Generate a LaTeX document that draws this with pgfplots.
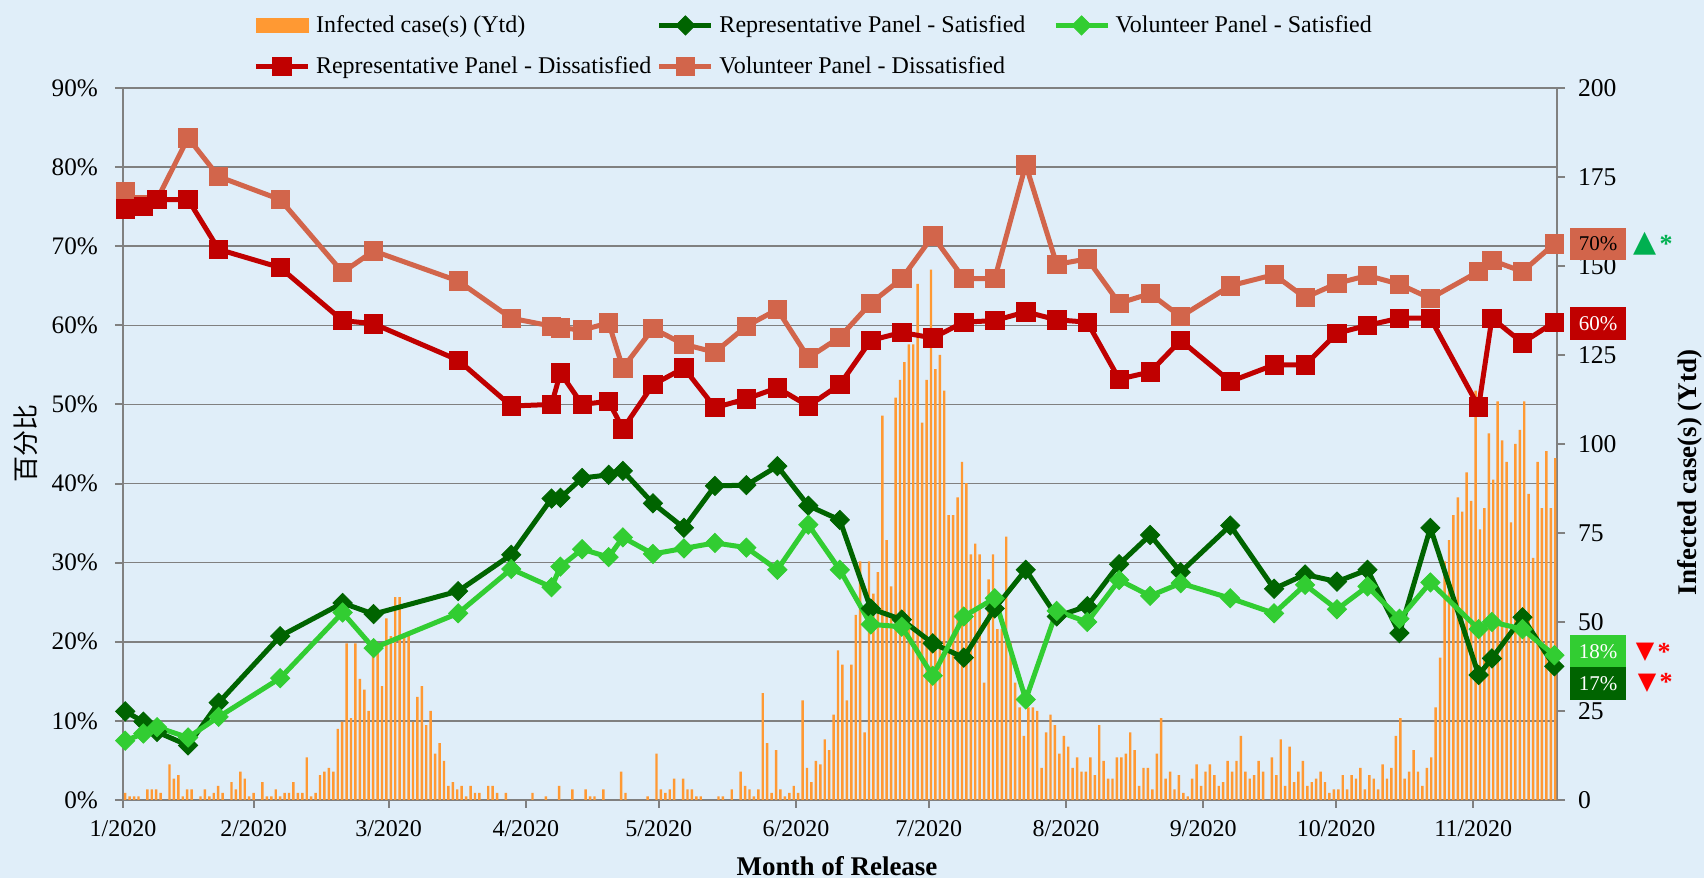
\documentclass[border=0pt]{standalone}
\usepackage{pgfplots}
\usepackage{pgfplotstable}
\pgfplotsset{compat=1.18}
\usepackage{fontspec}
\setmainfont{Liberation Serif}
\newfontfamily\cjk{Noto Sans CJK SC}
\newfontfamily\djv{DejaVu Sans}
\definecolor{bgblue}{HTML}{E0EEF9}
\definecolor{gridgray}{HTML}{808080}
\definecolor{barorange}{HTML}{FF9933}
\definecolor{repred}{HTML}{C00000}
\definecolor{volorange}{HTML}{D2654B}
\definecolor{repgreen}{HTML}{006400}
\definecolor{volgreen}{HTML}{32CD32}
\definecolor{upgreen}{HTML}{00B050}

\pgfplotstableread{
x y
0 2
1 1
2 1
3 1
5 3
6 3
7 3
8 2
10 10
11 6
12 7
13 1
14 3
15 3
17 1
18 3
19 1
20 2
21 4
22 2
24 5
25 3
26 8
27 6
28 1
29 2
31 5
32 1
33 1
34 3
35 1
36 2
37 2
38 5
39 2
40 2
41 12
42 1
43 2
44 7
45 8
46 9
47 8
48 20
49 22
50 44
51 23
52 44
53 34
54 31
55 25
56 44
57 44
58 32
59 51
60 46
61 57
62 57
63 46
64 46
65 22
66 29
67 32
68 21
69 25
70 13
71 16
72 11
73 4
74 5
75 3
76 4
77 1
78 4
79 2
80 2
82 4
83 4
84 2
86 2
92 2
95 1
98 4
101 3
104 3
105 1
106 1
108 3
112 8
113 2
118 1
120 13
121 3
122 2
123 3
124 6
126 6
127 3
128 3
129 1
130 1
134 1
135 1
137 3
139 8
140 4
141 3
142 1
143 3
144 30
145 16
146 2
147 14
148 3
149 1
150 2
151 4
152 2
153 28
154 9
155 5
156 11
157 10
158 17
159 14
160 24
161 42
162 38
163 28
164 38
165 52
166 67
167 19
168 67
169 58
170 64
171 108
172 73
173 60
174 113
175 118
176 123
177 128
178 128
179 145
180 106
181 118
182 149
183 121
184 125
185 115
186 80
187 80
188 85
189 95
190 89
191 69
192 72
193 69
194 33
195 62
196 69
197 48
198 48
199 74
200 44
201 33
202 26
203 18
204 26
205 26
206 25
207 9
208 19
209 24
210 21
211 13
212 18
213 15
214 9
215 12
216 8
217 8
218 12
219 7
220 21
221 11
222 6
223 6
224 12
225 12
226 13
227 19
228 14
229 4
230 9
231 9
232 3
233 13
234 23
235 6
236 8
237 3
238 7
239 2
240 1
241 6
242 10
243 4
244 8
245 10
246 7
247 4
248 5
249 11
250 8
251 11
252 18
253 8
254 6
255 7
256 11
257 8
259 12
260 7
261 17
262 4
263 15
264 5
265 8
266 11
267 4
268 5
269 6
270 8
271 5
272 2
273 3
274 3
275 7
276 3
277 7
278 6
279 9
280 3
281 7
282 6
283 3
284 10
285 6
286 9
287 18
288 23
289 6
290 8
291 14
292 8
293 4
294 9
295 12
296 26
297 40
298 67
299 73
300 80
301 85
302 81
303 92
304 84
305 115
306 76
307 82
308 103
309 90
310 112
311 101
312 95
313 78
314 100
315 104
316 112
317 86
318 68
319 95
320 82
321 98
322 82
323 96
}\bardata

\pgfplotstableread{
x repdis voldis repsat volsat
0 74.7 76.9 11.2 7.5
4.1 75.0 75.2 9.9 8.4
7.2 75.9 75.9 8.6 9.2
14.2 75.9 83.7 6.9 7.9
21.1 69.6 78.8 12.3 10.5
35 67.3 75.9 20.7 15.4
49.1 60.6 66.7 24.9 23.7
56.1 60.2 69.4 23.5 19.2
75.2 55.6 65.6 26.4 23.6
87.2 49.8 60.9 31.0 29.2
96.3 50.0 59.9 38.1 26.9
98.3 54.0 59.7 38.2 29.5
103.2 50.0 59.4 40.7 31.7
109.2 50.4 60.3 41.1 30.7
112.4 46.9 54.6 41.6 33.2
119.2 52.5 59.6 37.5 31.1
126.2 54.6 57.6 34.4 31.8
133.2 49.6 56.6 39.7 32.5
140.3 50.7 59.9 39.8 31.9
147.3 52.1 62.0 42.2 29.1
154.3 49.8 55.9 37.2 34.8
161.4 52.5 58.5 35.4 29.1
168.4 58.1 62.8 24.2 22.2
175.4 59.1 65.9 22.8 21.9
182.4 58.4 71.3 19.8 15.7
189.4 60.4 65.9 18.0 23.2
196.4 60.6 65.9 24.2 25.5
203.4 61.7 80.3 29.1 12.7
210.4 60.7 67.7 23.2 23.9
217.3 60.4 68.4 24.5 22.5
224.5 53.2 62.8 29.8 27.8
231.5 54.1 64.0 33.5 25.8
238.4 58.1 61.1 28.8 27.4
249.6 52.9 65.0 34.7 25.5
259.5 55.0 66.4 26.7 23.6
266.5 55.0 63.5 28.5 27.2
273.7 59.0 65.3 27.6 24.1
280.6 60.0 66.3 29.1 27.0
287.8 60.9 65.2 21.1 22.9
294.8 60.9 63.4 34.4 27.5
305.7 49.7 66.8 15.8 21.6
308.7 60.9 68.2 17.9 22.5
315.6 57.8 66.8 23.1 21.6
322.8 60.4 70.3 16.9 18.3
}\linedata

\pgfplotsset{
  common/.style={at={(0pt,0pt)}, anchor=south west, scale only axis,
    width=717pt, height=356pt, xmin=-0.5, xmax=323.4},
  mylegline/.style={legend image code/.code={%
    \draw[mark repeat=2,mark phase=2,##1] plot coordinates {(0pt,0pt) (13pt,0pt) (26pt,0pt)};}},
}

\begin{document}
\begin{tikzpicture}
\fill[bgblue] (-61.5pt,-39pt) rectangle (790.5pt,400pt);
\useasboundingbox (-61.5pt,-39pt) rectangle (790.5pt,400pt);

% percent axis: grid, left ticks, x ticks
\begin{axis}[common, ymin=0, ymax=90,
  axis x line*=bottom, axis y line*=left,
  axis line style={gridgray, line width=1.3pt},
  ymajorgrids, grid style={gridgray, line width=0.8pt},
  ytick={0,10,...,90},
  yticklabels={0\%,10\%,20\%,30\%,40\%,50\%,60\%,70\%,80\%,90\%},
  xtick={-0.5,29,59.5,90.5,120.5,151.5,181.5,212.5,243.5,273.5,304.5},
  xticklabels={1/2020,2/2020,3/2020,4/2020,5/2020,6/2020,7/2020,8/2020,9/2020,10/2020,11/2020},
  tick align=outside, major tick length=4pt,
  tick style={gridgray, line width=1pt},
  yticklabel style={font=\fontsize{12.6}{12.6}\selectfont, xshift=-5pt},
  xticklabel style={font=\fontsize{12}{12}\selectfont, anchor=base, yshift=-14.5pt},
]
\end{axis}

% bar axis (right)
\begin{axis}[common, ymin=0, ymax=200,
  axis y line*=right, axis x line=none,
  axis line style={gridgray, line width=1.3pt},
  ytick={0,25,...,200},
  yticklabels={0,25,50,75,100,125,150,175,200},
  tick align=outside, major tick length=4pt,
  tick style={gridgray, line width=1pt},
  yticklabel style={font=\fontsize{12.8}{12.8}\selectfont, xshift=3pt},
]
\addplot[ybar, bar width=0.55, fill=barorange, draw=none] table[x=x,y=y] {\bardata};
\end{axis}

% line axis
\begin{axis}[common, ymin=0, ymax=90, hide axis, clip=false,
  legend columns=3,
  legend cell align=left,
  legend style={draw=none, fill=none, inner sep=0pt,
    at={(axis description cs:0.0907,1.108)}, anchor=north west,
    font=\fontsize{12}{14}\selectfont, row sep=6.5pt,
    nodes={inner xsep=2.8pt}},
]
\addlegendimage{legend image code/.code={\fill[barorange] (0pt,-3.5pt) rectangle (26pt,3.5pt);}}
\addlegendentry{\makebox[167pt][l]{Infected case(s) (Ytd)}}
\addlegendimage{mylegline, repgreen, line width=2.5pt, mark=square*, mark size=3.4pt, mark options={rotate=45, line width=0.4pt}}
\addlegendentry{\makebox[164pt][l]{Representative Panel - Satisfied}}
\addlegendimage{mylegline, volgreen, line width=2.5pt, mark=square*, mark size=3.4pt, mark options={rotate=45, line width=0.4pt}}
\addlegendentry{Volunteer Panel - Satisfied}
\addlegendimage{mylegline, repred, line width=2.5pt, mark=square*, mark size=4.6pt, mark options={line width=0.4pt}}
\addlegendentry{Representative Panel - Dissatisfied}
\addlegendimage{mylegline, volorange, line width=2.5pt, mark=square*, mark size=4.6pt, mark options={line width=0.4pt}}
\addlegendentry{Volunteer Panel - Dissatisfied}

\addplot[forget plot, repgreen, line width=2.5pt, mark=square*, mark size=3.4pt, mark options={rotate=45, line width=0.4pt}] table[x=x,y=repsat] {\linedata};
\addplot[forget plot, volgreen, line width=2.5pt, mark=square*, mark size=3.4pt, mark options={rotate=45, line width=0.4pt}] table[x=x,y=volsat] {\linedata};
\addplot[forget plot, volorange, line width=2.5pt, mark=square*, mark size=4.6pt, mark options={line width=0.4pt}] table[x=x,y=voldis] {\linedata};
\addplot[forget plot, repred, line width=2.5pt, mark=square*, mark size=4.6pt, mark options={line width=0.4pt}] table[x=x,y=repdis] {\linedata};
\end{axis}

% axis titles
\node[font=\bfseries\fontsize{13.5}{13.5}\selectfont] at (357pt,-33pt) {Month of Release};
\node[rotate=90, font=\bfseries\fontsize{13.5}{13.5}\selectfont] at (783.5pt,163.75pt) {Infected case(s) (Ytd)};
\node[rotate=90, font=\cjk\fontsize{13}{13}\selectfont] at (-48.6pt,178pt) {百分比};

% end-point call-outs
\tikzset{callout/.style={minimum width=28pt, minimum height=16.3pt, inner sep=0pt, font=\fontsize{10.5}{10.5}\selectfont}}
\node[callout, fill=volorange, text=black] at (737.5pt,278pt) {70\%};
\node[callout, fill=repred, text=white] at (737.5pt,238.25pt) {60\%};
\node[callout, fill=volgreen, text=white] at (737.5pt,74.15pt) {18\%};
\node[callout, fill=repgreen, text=white] at (737.5pt,58.2pt) {17\%};
\node[text=upgreen, inner sep=0pt, font=\djv\fontsize{15}{15}\selectfont] at (761pt,278pt) {▲};
\node[text=upgreen, inner sep=0pt, font=\bfseries\fontsize{13}{13}\selectfont] at (771.5pt,278pt) {*};
\node[text=red, inner sep=0pt, font=\djv\fontsize{12}{12}\selectfont] at (761pt,73.7pt) {▼};
\node[text=red, inner sep=0pt, font=\bfseries\fontsize{13}{13}\selectfont] at (770.5pt,74pt) {*};
\node[text=red, inner sep=0pt, font=\djv\fontsize{12}{12}\selectfont] at (762pt,58.5pt) {▼};
\node[text=red, inner sep=0pt, font=\bfseries\fontsize{13}{13}\selectfont] at (771.5pt,59pt) {*};
\end{tikzpicture}
\end{document}
